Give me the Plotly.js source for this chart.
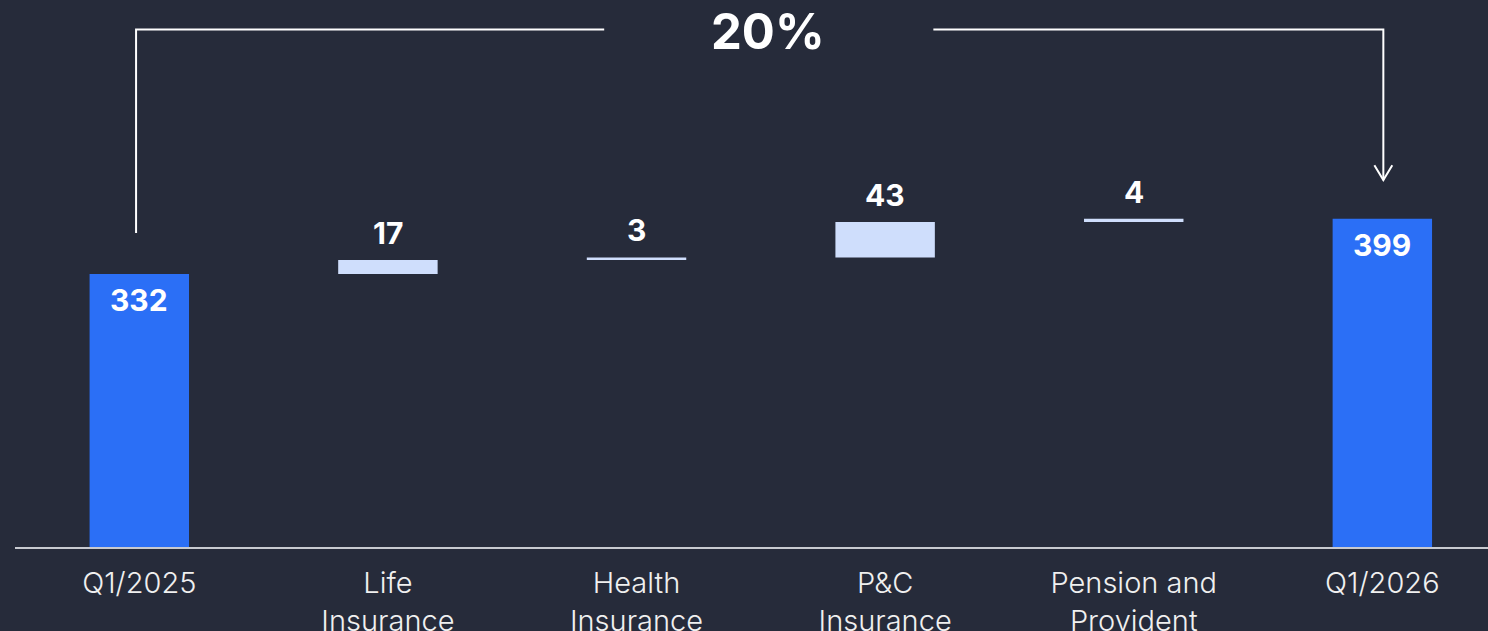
<!DOCTYPE html>
<html>
<head>
<meta charset="utf-8">
<script src="https://cdn.plot.ly/plotly-3.0.1.min.js"></script>
<style>
html,body{margin:0;padding:0;background:#262b3a;}
#chart{width:1488px;height:631px;}
</style>
</head>
<body>
<div id="chart"></div>
<script>
const categories = ["Q1/2025", "Life<br>Insurance", "Health<br>Insurance", "P&C<br>Insurance", "Pension and<br>Provident", "Q1/2026"];
const values = [332, 17, 3, 43, 4, 399];
const measures = ["absolute", "relative", "relative", "relative", "relative", "total"];
const changeLabel = "20%";

const BG = "#262b3a";
const BLUE = "#2b6ff6";
const LIGHT = "#cfdefc";
const FONT = "Inter, 'Open Sans', sans-serif";

// cumulative tops for label placement
const tops = [];
let run = 0;
values.forEach((v, i) => {
  if (measures[i] === "absolute") run = v;
  else if (measures[i] === "relative") run += v;
  tops.push(run);
});

const xs = categories.map((c, i) => i);

const trace = {
  type: "waterfall",
  x: xs,
  y: values,
  measure: measures,
  width: 0.4,
  connector: {visible: false},
  increasing: {marker: {color: LIGHT}},
  decreasing: {marker: {color: LIGHT}},
  totals: {marker: {color: BLUE}},
  textposition: "none",
  hoverinfo: "skip"
};

const annotations = values.map((v, i) => {
  const isTotal = measures[i] !== "relative";
  return {
    x: i, y: tops[i], xref: "x", yref: "y",
    text: String(v), showarrow: false,
    yanchor: "middle",
    yshift: isTotal ? -26 : 27,
    font: {family: FONT, size: 30, color: "#ffffff", weight: 700}
  };
});

annotations.push({
  x: 2.53, y: 629, xref: "x", yref: "y",
  text: changeLabel, showarrow: false, yanchor: "middle", yshift: -2,
  font: {family: FONT, size: 49, color: "#ffffff", weight: 700}
});

const lineStyle = {color: "#ffffff", width: 2};
const shapes = [
  {type: "path", xref: "x", yref: "y", path: "M -0.013,381.7 L -0.013,629 L 1.87,629", line: lineStyle},
  {type: "path", xref: "x", yref: "y", path: "M 3.194,629 L 5.004,629 L 5.004,446", line: lineStyle},
  {type: "path", xref: "x", yref: "y", path: "M 4.968,464 L 5.004,446 L 5.040,464", line: lineStyle}
];

const layout = {
  width: 1488, height: 631,
  paper_bgcolor: BG, plot_bgcolor: BG,
  margin: {l: 15, r: 0, t: 0, b: 84},
  showlegend: false,
  xaxis: {
    range: [-0.5, 5.425],
    tickmode: "array", tickvals: xs, ticktext: categories,
    showline: true, linecolor: "#c8cad0", linewidth: 2,
    showgrid: false, zeroline: false, ticks: "",
    ticklabelstandoff: 9,
    tickfont: {family: FONT, size: 29, color: "#f0f0f0", weight: 300}
  },
  yaxis: {
    range: [0, 665], visible: false, showgrid: false, zeroline: false
  },
  annotations: annotations,
  shapes: shapes
};

Plotly.newPlot("chart", [trace], layout, {displayModeBar: false, staticPlot: true});
</script>
</body>
</html>
